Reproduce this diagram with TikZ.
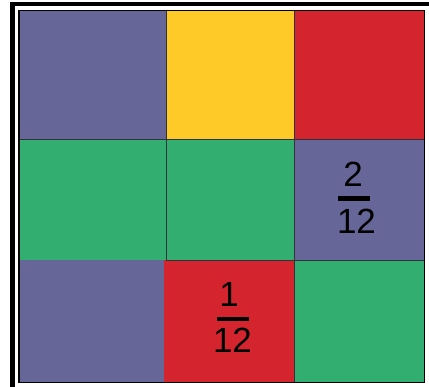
\documentclass[tikz,border=0pt]{standalone}
\usepackage{fontspec}
\setmainfont{Liberation Sans}
\definecolor{cpurple}{RGB}{102,102,153}
\definecolor{cyellow}{RGB}{253,202,40}
\definecolor{cred}{RGB}{212,37,46}
\definecolor{cgreen}{RGB}{50,174,112}
\definecolor{cline}{RGB}{50,50,60}
\begin{document}
\begin{tikzpicture}[x=1pt,y=-1pt,
  cell/.style={draw=cline,line width=1pt},
  num/.style={font=\fontsize{35}{35}\selectfont,inner sep=0pt,anchor=base}]
\useasboundingbox (0,0) rectangle (429,387);
\fill[white] (0,0) rectangle (429,387);
% outer frame
\fill[black] (10,2) rectangle (429,6.5);
\fill[black] (10,2) rectangle (15,387);
% cells
\fill[cpurple] (20,11) rectangle (166,139);
\fill[cyellow] (166,11) rectangle (294,139);
\fill[cred] (294,11) rectangle (424,139);
\fill[cgreen] (20,139) rectangle (166,260);
\fill[cgreen] (166,139) rectangle (294,260);
\fill[cpurple] (294,139) rectangle (424,260);
\fill[cpurple] (20,260) rectangle (164,382);
\fill[cred] (164,260) rectangle (294,382);
\fill[cgreen] (294,260) rectangle (424,382);
% grid lines
\draw[cline,line width=0.8pt] (166,11) -- (166,260);
\draw[cline,line width=0.8pt] (294,11) -- (294,382);
\draw[cline,line width=0.8pt] (20,139) -- (424,139);
\draw[cline,line width=0.8pt] (166,260) -- (424,260);
% inner frame
\draw[black,line width=1.3pt] (19,10.5) rectangle (424.5,382.8);
% fractions
\node[num] (n2) at (353,187) {2};
\fill[black] (338,196) rectangle (370,200.7);
\node[num] (d12a) at (356.5,234) {12};
\node[num] (n1) at (229,307) {1};
\fill[black] (216.7,316.7) rectangle (249,321.5);
\node[num] (d12b) at (232.5,353) {12};
\end{tikzpicture}
\end{document}
